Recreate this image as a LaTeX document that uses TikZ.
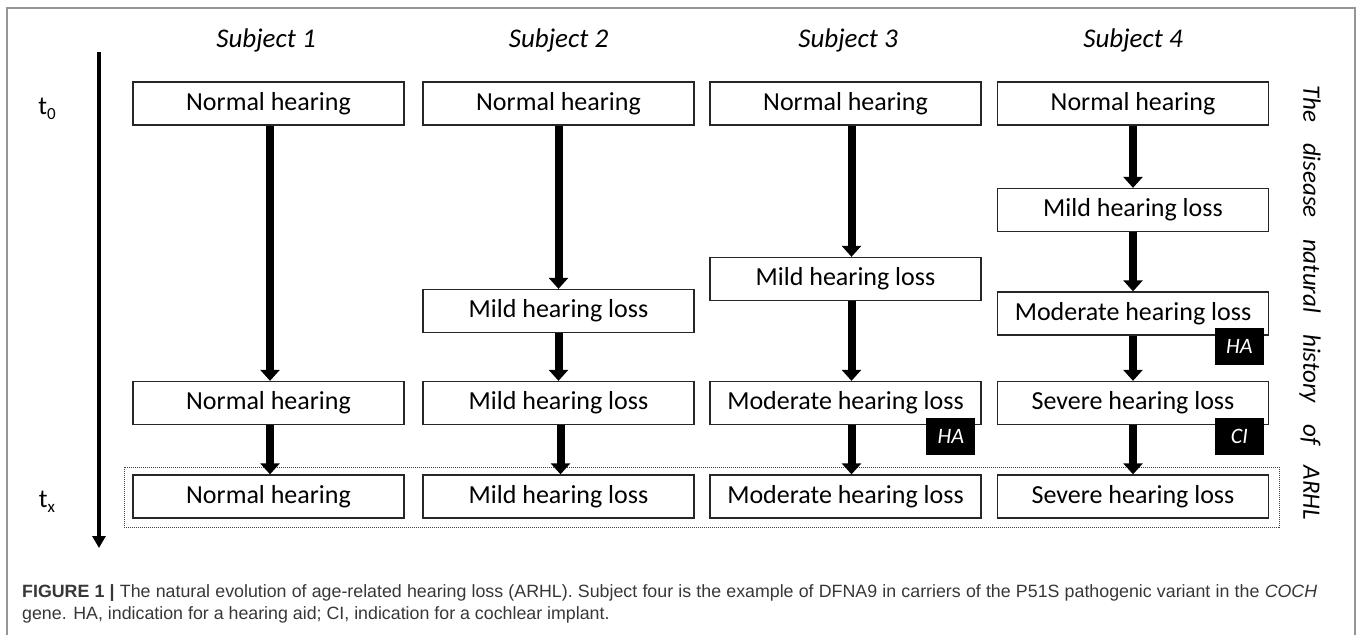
\documentclass[tikz,border=0pt]{standalone}
\usepackage{fontspec}
\setmainfont{Carlito}
\newfontfamily\capfont{Liberation Sans}
\usetikzlibrary{arrows.meta,calc}
\definecolor{framegray}{RGB}{150,150,150}
\definecolor{capgray}{RGB}{55,55,55}
\begin{document}
\begin{tikzpicture}[x=1pt,y=-1pt,
  stage/.style={draw=black!85,line width=1.3pt,fill=white,minimum width=271pt,minimum height=43pt,inner sep=0pt,font=\fontsize{26}{30}\selectfont},
  flow/.style={line width=8pt,-{Triangle[width=19pt,length=11pt]}},
  tag/.style={fill=black,text=white,minimum width=49pt,minimum height=37pt,inner sep=0pt,font=\fontsize{22}{26}\selectfont\itshape,anchor=north east},
  subj/.style={font=\fontsize{27}{32}\selectfont\itshape},
  tlabel/.style={font=\fontsize{26}{30}\selectfont,anchor=base,inner sep=0pt},
  timeline/.style={line width=3.5pt,-{Triangle[width=13pt,length=12pt]}},
  capline/.style={anchor=base west,inner sep=0pt,text=capgray,font=\capfont\fontsize{17.8}{21}\selectfont}
  ]
\useasboundingbox (0,0) rectangle (1358,635);
% frame
\draw[framegray,line width=2pt] (7,635) -- (7,8) -- (1355,8) -- (1355,635);

% subject headers
\node[subj] (s1) at (266,40) {Subject 1};
\node[subj] (s2) at (558.5,40) {Subject 2};
\node[subj] (s3) at (848,40) {Subject 3};
\node[subj] (s4) at (1133,40) {Subject 4};

% time axis
\coordinate (tstart) at (99,52);
\coordinate (tend) at (99,548);
\draw[timeline] (tstart) -- (tend);
\node[tlabel] (t0) at (47,114) {t\raisebox{-0.22em}{\fontsize{17}{17}\selectfont 0}};
\node[tlabel] (tx) at (47,507) {t\raisebox{-0.22em}{\fontsize{17}{17}\selectfont x}};

% dotted frame around final state
\draw[black!75,line width=1pt,dash pattern=on 1pt off 1pt] (124,467) rectangle (1279,527);

% column 1
\node[stage] (a1) at (268.5,103.5) {Normal hearing};
\node[stage] (a2) at (268.5,403) {Normal hearing};
\node[stage] (a3) at (268.5,496.5) {Normal hearing};
% column 2
\node[stage] (b1) at (558.5,103.5) {Normal hearing};
\node[stage] (b2) at (558.5,311) {Mild hearing loss};
\node[stage] (b3) at (558.5,403) {Mild hearing loss};
\node[stage] (b4) at (558.5,496.5) {Mild hearing loss};
% column 3
\node[stage] (c1) at (845.5,103.5) {Normal hearing};
\node[stage] (c2) at (845.5,279) {Mild hearing loss};
\node[stage] (c3) at (845.5,403) {Moderate hearing loss};
\node[stage] (c4) at (845.5,496.5) {Moderate hearing loss};
% column 4
\node[stage] (d1) at (1133,103.5) {Normal hearing};
\node[stage] (d2) at (1133,210) {Mild hearing loss};
\node[stage] (d3) at (1133,313.5) {Moderate hearing loss};
\node[stage] (d4) at (1133,403) {Severe hearing loss};
\node[stage] (d5) at (1133,496.5) {Severe hearing loss};

% arrows
\draw[flow] ([xshift=1.5pt]a1.south) -- ([xshift=1.5pt]a2.north);
\draw[flow] ([xshift=1.5pt]a2.south) -- ([xshift=1.5pt]a3.north);
\draw[flow] (b1.south) -- (b2.north);
\draw[flow] (b2.south) -- (b3.north);
\draw[flow] ([xshift=2pt]b3.south) -- ([xshift=2pt]b4.north);
\draw[flow] ([xshift=6pt]c1.south) -- ([xshift=6pt]c2.north);
\draw[flow] ([xshift=6pt]c2.south) -- ([xshift=6pt]c3.north);
\draw[flow] ([xshift=6pt]c3.south) -- ([xshift=6pt]c4.north);
\draw[flow] (d1.south) -- (d2.north);
\draw[flow] (d2.south) -- (d3.north);
\draw[flow] (d3.south) -- (d4.north);
\draw[flow] (d4.south) -- (d5.north);

% indication tags
\node[tag] (ha3) at ([xshift=-6pt,yshift=7pt]c3.south east) {HA};
\node[tag] (ha4) at ([xshift=-5pt,yshift=8pt]d3.south east) {HA};
\node[tag] (ci4) at ([xshift=-5pt,yshift=7pt]d4.south east) {CI};

% vertical side label
\node[rotate=-90,inner sep=0pt,font=\fontsize{25}{29}\selectfont\itshape] (side) at (1310,302.5)
  {\makebox[435pt][s]{The disease natural history of ARHL}};

% caption
\node[capline] (cap1) at (22,597)
  {\makebox[1295pt][s]{\textbf{FIGURE 1 |} The natural evolution of age-related hearing loss (ARHL). Subject four is the example of DFNA9 in carriers of the P51S pathogenic variant in the \textit{COCH}}};
\node[capline] (cap2) at (22,619)
  {gene. HA, indication for a hearing aid; CI, indication for a cochlear implant.};
\end{tikzpicture}
\end{document}
